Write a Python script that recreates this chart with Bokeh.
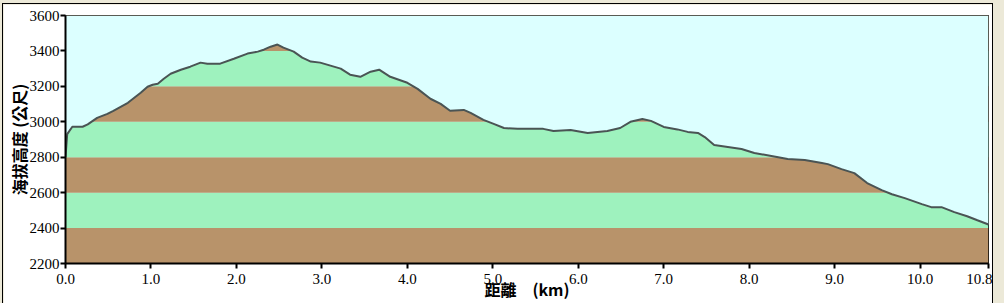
from bokeh.plotting import figure
from bokeh.layouts import column
from bokeh.models import FixedTicker, NumeralTickFormatter, Range1d
from bokeh.embed import file_html
from bokeh.resources import INLINE

dist = [0.00, 0.02, 0.08, 0.20, 0.26, 0.37, 0.49, 0.56, 0.73, 0.88, 0.96, 1.02, 1.08, 1.15,
        1.23, 1.35, 1.46, 1.58, 1.66, 1.81, 1.97, 2.13, 2.25, 2.32, 2.40, 2.48, 2.55, 2.67,
        2.77, 2.87, 2.98, 3.10, 3.22, 3.33, 3.45, 3.57, 3.67, 3.80, 4.00, 4.12, 4.27, 4.39,
        4.50, 4.66, 4.74, 4.89, 5.01, 5.13, 5.29, 5.44, 5.59, 5.71, 5.91, 6.11, 6.34, 6.49,
        6.61, 6.75, 6.85, 7.00, 7.16, 7.28, 7.40, 7.48, 7.59, 7.75, 7.91, 8.06, 8.26, 8.45,
        8.65, 8.85, 8.92, 9.08, 9.23, 9.38, 9.55, 9.67, 9.82, 10.02, 10.13, 10.25, 10.40,
        10.55, 10.67, 10.80]
elev = [2800, 2930, 2972, 2972, 2985, 3022, 3045, 3062, 3107, 3164, 3198, 3209, 3215, 3243,
        3271, 3294, 3311, 3334, 3328, 3328, 3356, 3385, 3396, 3407, 3424, 3436, 3419, 3396,
        3362, 3340, 3334, 3317, 3300, 3266, 3254, 3283, 3294, 3254, 3220, 3186, 3130, 3101,
        3062, 3067, 3050, 3011, 2988, 2965, 2960, 2960, 2960, 2948, 2954, 2937, 2948, 2965,
        3000, 3016, 3005, 2971, 2957, 2943, 2937, 2914, 2869, 2858, 2846, 2824, 2807, 2790,
        2784, 2767, 2761, 2733, 2710, 2654, 2614, 2591, 2569, 2535, 2518, 2518, 2490,
        2467, 2444, 2420]

# elevation bands (alternating colours)
band_bottom = [2200, 2400, 2600, 2800, 3000, 3200, 3400]
band_top = [2400, 2600, 2800, 3000, 3200, 3400, 3600]
band_color = ["#B8936A", "#9EF2BE", "#B8936A", "#9EF2BE", "#B8936A", "#9EF2BE", "#B8936A"]

x_ticks = [0, 1, 2, 3, 4, 5, 6, 7, 8, 9, 10, 10.8]
y_ticks = [2200, 2400, 2600, 2800, 3000, 3200, 3400, 3600]
x_start, x_end = 0, 10.8
y_start, y_end = 2200, 3600

x_title = "距離　(km)"
y_title = "海拔高度 (公尺)"

SKY = "#DCFFFF"

p = figure(width=989, height=299, output_backend="svg", toolbar_location=None,
           x_range=Range1d(x_start, x_end), y_range=Range1d(y_start, y_end),
           min_border_left=62, min_border_right=4, min_border_top=11, min_border_bottom=40,
           border_fill_color="white", background_fill_color=SKY)
p.margin = (4, 0, 0, 3)
p.styles = {"outline": "1px solid black"}

p.quad(left=x_start, right=x_end, bottom=band_bottom, top=band_top,
       fill_color=band_color, line_color=None)
p.varea(x=dist, y1=elev, y2=y_end, fill_color=SKY)
p.line(dist, elev, line_color="#4A5454", line_width=2)

p.grid.visible = False
p.outline_line_color = "black"
p.outline_line_width = 1

p.xaxis.ticker = FixedTicker(ticks=x_ticks)
p.xaxis.formatter = NumeralTickFormatter(format="0.0")
p.yaxis.ticker = FixedTicker(ticks=y_ticks)

for ax in (p.xaxis[0], p.yaxis[0]):
    ax.axis_line_width = 2
    ax.axis_line_color = "black"
    ax.major_tick_line_color = "black"
    ax.major_tick_line_width = 2
    ax.major_tick_out = 5
    ax.major_tick_in = 0
    ax.minor_tick_line_color = None
    ax.major_label_text_font = "Liberation Serif"
    ax.major_label_text_font_size = "15px"
    ax.major_label_text_color = "black"
    ax.axis_label_text_font = "Noto Sans CJK TC"
    ax.axis_label_text_font_style = "bold"
    ax.axis_label_text_font_size = "16px"
    ax.axis_label_text_color = "black"

p.yaxis.major_label_standoff = 1
p.yaxis.axis_label = y_title
p.yaxis.axis_label_standoff = -4
p.xaxis.major_label_standoff = 5
p.xaxis.axis_label = x_title
p.xaxis.axis_label_standoff = -10

page = column(p, width=1004, height=303, styles={"background-color": "#ECE9D8"})

open("out.html", "w").write(file_html(page, INLINE))
